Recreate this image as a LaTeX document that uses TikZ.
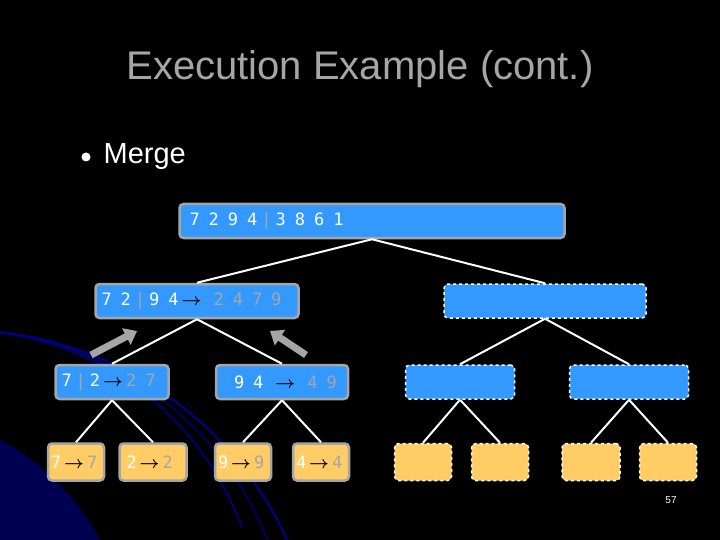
\documentclass[tikz,border=0pt]{standalone}
\usepackage{amsmath,amssymb}
\usepackage{fontspec}
\setmainfont{Liberation Sans}
\newfontfamily\boxfont{DejaVu Sans Mono}
\usepackage{tikz}
\usetikzlibrary{arrows.meta}
\definecolor{boxblue}{HTML}{3399FF}
\definecolor{boxorange}{HTML}{FFCC66}
\definecolor{greytxt}{HTML}{A6A6A6}
\newcommand{\gap}{\hspace{9pt}}
\newcommand{\goes}{\hspace{3pt}\textcolor{black}{$\boldsymbol{\rightarrow}$}\hspace{3pt}}
\newcommand{\sepbar}{\hspace{4pt}\textcolor{greytxt}{|}\hspace{4pt}}
\newcommand{\gr}[1]{\textcolor{greytxt}{#1}}
\newcommand{\boxtext}{\boxfont\fontsize{17}{17}\selectfont}
\begin{document}
\begin{tikzpicture}[x=1pt, y=-1pt, semithick,
    box/.style={draw=greytxt, line width=2.5pt, rounded corners=4pt, minimum height=34pt,
                text=white, font=\boxtext, inner xsep=6pt, inner ysep=0pt,
                align=left, text width=#1-12pt, minimum width=#1},
    blue/.style={box=#1, fill=boxblue},
    leaf/.style={box=#1, fill=boxorange, minimum height=37pt, inner xsep=3pt, text width=#1-6pt},
    empty/.style={draw=white, dashed, line width=1.5pt},
    link/.style={white, line width=2pt},
    up/.style={-{Triangle[length=12pt,width=18pt]}, greytxt, line width=7pt}]

  \fill[black] (0,0) rectangle (720,540);
  \useasboundingbox (0,0) rectangle (720,540);
  % swirl in the background
  \foreach \r/\c in {300/blue!45!black, 330/blue!35!black, 360/blue!55!black}
    \draw[\c, line width=2pt] (-40,330) arc[start angle=90, end angle=20, radius=\r pt];
  \fill[blue!45!black, opacity=.7] (0,440) .. controls (40,460) and (80,500) .. (100,540) -- (0,540) -- cycle;

  \node[greytxt, font=\fontsize{40}{40}\selectfont] (title) at (360,69) {Execution Example (cont.)};
  \node[circle, fill=white, inner sep=0pt, minimum size=9pt] (dot) at (86,157) {};
  \node[white, anchor=west, font=\fontsize{29}{29}\selectfont] (merge) at (100,157) {Merge};

  \node[blue=385pt] (n) at (372,221) {\hspace{4pt}7\gap2\gap9\gap4\sepbar3\gap8\gap6\gap1};
  \node[blue=203pt] (nl) at (197,301) {7\gap2\sepbar9\gap4\goes\gap\gr{2\gap4\gap7\gap9}};
  \node[blue=202pt, empty] (nr) at (545,301) {};
  \node[blue=113pt] (nll) at (112,382) {7\sepbar2\goes\gr{2\gap7}};
  \node[blue=132pt] (nlr) at (282,382) {\hspace{12pt}9\gap4\gap\goes\gap\gr{4\gap9}};
  \node[blue=109pt, empty] (nrl) at (460,382) {};
  \node[blue=119pt, empty] (nrr) at (629,382) {};

  \node[leaf=56pt] (a) at (76,462) {7\goes\gr{7}};
  \node[leaf=67pt] (b) at (153,462) {\hspace{4pt}2\goes\gr{2}};
  \node[leaf=56pt] (c) at (243,462) {9\goes\gr{9}};
  \node[leaf=56pt] (d) at (321,462) {4\goes\gr{4}};
  \node[leaf=57pt, empty] (e) at (423,462) {};
  \node[leaf=57pt, empty] (f) at (500,462) {};
  \node[leaf=58pt, empty] (g) at (591,462) {};
  \node[leaf=57pt, empty] (h) at (668,462) {};

  \foreach \p/\q in {n/nl, n/nr, nl/nll, nl/nlr, nr/nrl, nr/nrr,
                     nll/a, nll/b, nlr/c, nlr/d, nrl/e, nrl/f, nrr/g, nrr/h}
    \draw[link] (\p.south) -- (\q.north);

  \coordinate (u1) at (91,355);
  \coordinate (v1) at (137,331);
  \coordinate (u2) at (306,355);
  \coordinate (v2) at (270,331);
  \draw[up] (u1) -- (v1);
  \draw[up] (u2) -- (v2);

  \node[white, font=\fontsize{10}{10}\selectfont] (page) at (671,500) {57};
\end{tikzpicture}
\end{document}
